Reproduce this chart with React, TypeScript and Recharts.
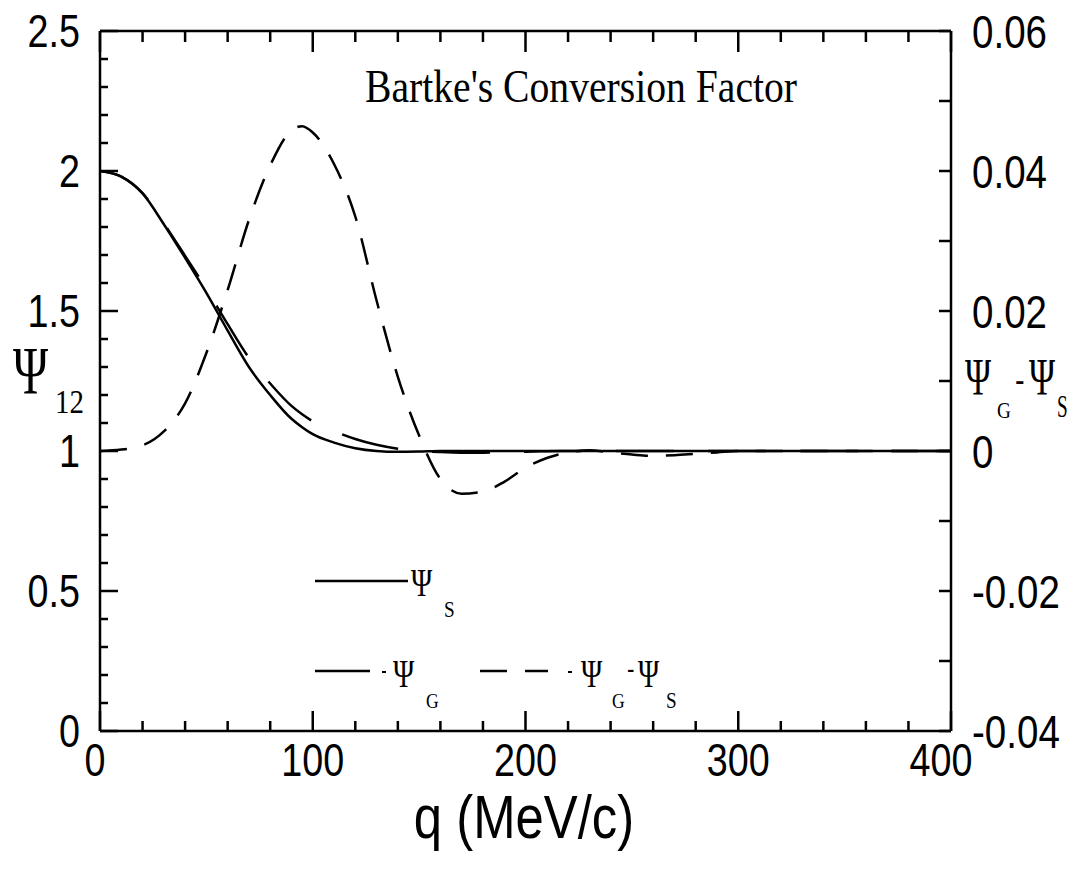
import React from 'react';
import { ComposedChart, Line, XAxis, YAxis } from 'recharts';

const qValues = [0, 10, 20, 30, 40, 50, 60, 70, 80, 90, 95, 100, 110, 120, 130, 140, 150, 160, 170, 180, 190, 200, 210, 220, 230, 240, 250, 260, 270, 280, 290, 300, 310, 320, 330, 340, 350, 360, 370, 380, 390, 400];
const psiS = [2.0, 1.98, 1.92, 1.81, 1.69, 1.565, 1.43, 1.3, 1.2, 1.115, 1.085, 1.06, 1.03, 1.01, 1.0, 0.997, 0.998, 1.0, 1.0, 1.0, 1.0, 1.0, 1.0, 1.0, 1.0, 1.0, 1.0, 1.0, 1.0, 1.0, 1.0, 1.0, 1.0, 1.0, 1.0, 1.0, 1.0, 1.0, 1.0, 1.0, 1.0, 1.0];
const psiG = [2.0, 1.98, 1.921, 1.813, 1.697, 1.579, 1.453, 1.333, 1.241, 1.161, 1.131, 1.106, 1.071, 1.043, 1.022, 1.008, 1.0, 0.996, 0.994, 0.994, 0.9956, 0.9976, 0.999, 0.9998, 1.0, 1.0, 1.0, 1.0, 1.0, 1.0, 1.0, 1.0, 1.0, 1.0, 1.0, 1.0, 1.0, 1.0, 1.0, 1.0, 1.0, 1.0];
const psiDiff = [0, 0.0002, 0.0008, 0.0028, 0.0068, 0.014, 0.023, 0.033, 0.0408, 0.0458, 0.0464, 0.0455, 0.041, 0.0335, 0.0215, 0.0106, 0.0022, -0.004, -0.0061, -0.0058, -0.0044, -0.0024, -0.001, -0.0002, 0.0001, -0.0002, -0.0005, -0.0007, -0.0006, -0.0004, -0.0002, 0, 0, 0, 0, 0, 0, 0, 0, 0, 0, 0];

const xTicks = [0, 20, 40, 60, 80, 100, 120, 140, 160, 180, 200, 220, 240, 260, 280, 300, 320, 340, 360, 380, 400];
const xLabels = ['0', '100', '200', '300', '400'];
const leftTicks = [0, 0.1, 0.2, 0.3, 0.4, 0.5, 0.6, 0.7, 0.8, 0.9, 1.0, 1.1, 1.2, 1.3, 1.4, 1.5, 1.6, 1.7, 1.8, 1.9, 2.0, 2.1, 2.2, 2.3, 2.4, 2.5];
const leftLabels = ['0', '0.5', '1', '1.5', '2', '2.5'];
const rightTicks = [-0.04, -0.03, -0.02, -0.01, 0, 0.01, 0.02, 0.03, 0.04, 0.05, 0.06];
const rightLabels = ['-0.04', '-0.02', '0', '0.02', '0.04', '0.06'];

const data = qValues.map((q, i) => ({ q, s: psiS[i], g: psiG[i], d: psiDiff[i] }));

const SANS = "'Liberation Sans', Arial, Helvetica, sans-serif";
const SERIF = "'Liberation Serif', 'Times New Roman', serif";
const AX = 2.5;
const NARROW = 0.82;

const findLabel = (labels: string[], v: number) => labels.find((l) => Math.abs(Number(l) - v) < 1e-9);

const T = (props: any) => {
  const { x, y, sx = 1, sy = 1, anchor = 'start', size, family = SERIF, children } = props;
  return (
    <text
      transform={`translate(${x},${y}) scale(${sx},${sy})`}
      x={0}
      y={0}
      textAnchor={anchor}
      fontSize={size}
      fontFamily={family}
      fill="#000"
    >
      {children}
    </text>
  );
};

const BottomTick = (props: any) => {
  const { x, y, payload } = props;
  const lab = findLabel(xLabels, payload.value);
  const shift = payload.value === 0 ? -5 : payload.value === 400 ? -10 : 0;
  return (
    <g>
      <line x1={x} x2={x} y1={y} y2={y - (lab ? 20 : 10)} stroke="#000" strokeWidth={AX} />
      {lab && (
        <T x={x + shift} y={y + 45} anchor="middle" size={46} family={SANS} sx={NARROW}>{lab}</T>
      )}
    </g>
  );
};

const TopTick = (props: any) => {
  const { x, y, payload } = props;
  const lab = findLabel(xLabels, payload.value);
  return <line x1={x} x2={x} y1={y} y2={y + (lab ? 21 : 11)} stroke="#000" strokeWidth={AX} />;
};

const LeftTick = (props: any) => {
  const { x, y, payload } = props;
  const lab = findLabel(leftLabels, payload.value);
  return (
    <g>
      <line x1={x} x2={x + (lab ? 18 : 8)} y1={y} y2={y} stroke="#000" strokeWidth={AX} />
      {lab && (
        <T x={x - 20} y={y + 16} anchor="end" size={46} family={SANS} sx={NARROW}>{lab}</T>
      )}
    </g>
  );
};

const RightTick = (props: any) => {
  const { x, y, payload } = props;
  const lab = findLabel(rightLabels, payload.value);
  return (
    <g>
      <line x1={x} x2={x - 12} y1={y} y2={y} stroke="#000" strokeWidth={AX} />
      {lab && (
        <T x={x + 21} y={y + 17} anchor="start" size={47} family={SANS} sx={NARROW}>{lab}</T>
      )}
    </g>
  );
};

export default function App() {
  return (
    <div style={{ position: 'absolute', left: 0, top: 0, width: 1081, height: 871, background: '#fff' }}>
      <ComposedChart width={1081} height={871} data={data} margin={{ top: 0, right: 0, bottom: 0, left: 0 }}>
        <XAxis
          xAxisId="bottom"
          dataKey="q"
          type="number"
          domain={[0, 400]}
          allowDataOverflow
          ticks={xTicks}
          interval={0}
          height={140}
          tickSize={0}
          tickMargin={0}
          tickLine={false}
          axisLine={{ stroke: '#000', strokeWidth: AX }}
          tick={<BottomTick />}
        />
        <XAxis
          xAxisId="top"
          orientation="top"
          dataKey="q"
          type="number"
          domain={[0, 400]}
          allowDataOverflow
          ticks={xTicks}
          interval={0}
          height={31}
          tickSize={0}
          tickMargin={0}
          tickLine={false}
          axisLine={{ stroke: '#000', strokeWidth: AX }}
          tick={<TopTick />}
        />
        <YAxis
          yAxisId="left"
          type="number"
          domain={[0, 2.5]}
          allowDataOverflow
          ticks={leftTicks}
          interval={0}
          width={100}
          tickSize={0}
          tickMargin={0}
          tickLine={false}
          axisLine={{ stroke: '#000', strokeWidth: AX }}
          tick={<LeftTick />}
        />
        <YAxis
          yAxisId="right"
          orientation="right"
          type="number"
          domain={[-0.04, 0.06]}
          allowDataOverflow
          ticks={rightTicks}
          interval={0}
          width={130}
          tickSize={0}
          tickMargin={0}
          tickLine={false}
          axisLine={{ stroke: '#000', strokeWidth: AX }}
          tick={<RightTick />}
        />
        <Line xAxisId="bottom" yAxisId="left" dataKey="s" type="monotone" stroke="#000" strokeWidth={2.5} dot={false} activeDot={false} isAnimationActive={false} />
        <Line xAxisId="bottom" yAxisId="left" dataKey="g" type="monotone" stroke="#000" strokeWidth={2.5} strokeDasharray="58 34" dot={false} activeDot={false} isAnimationActive={false} />
        <Line xAxisId="top" yAxisId="right" dataKey="d" type="monotone" stroke="#000" strokeWidth={2.5} strokeDasharray="27 18" dot={false} activeDot={false} isAnimationActive={false} />
      </ComposedChart>
      <svg width={1081} height={871} style={{ position: 'absolute', left: 0, top: 0, pointerEvents: 'none' }}>
        <text x={365} y={102} fontSize={46} fontFamily={SERIF} fill="#000" textLength={432} lengthAdjust="spacingAndGlyphs">Bartke's Conversion Factor</text>
        <T x={524} y={838} anchor="middle" size={62} family={SANS} sx={NARROW}>q (MeV/c)</T>

        <T x={13} y={393} size={68} sx={0.7}>Ψ</T>
        <T x={55} y={413} size={34} sx={0.85}>12</T>

        <T x={965} y={395} size={52} sx={0.68}>Ψ</T>
        <T x={997} y={418} size={24} sx={0.8}>G</T>
        <T x={1015} y={392} size={36} family={SANS} sx={0.8}>-</T>
        <T x={1029} y={395} size={52} sx={0.68}>Ψ</T>
        <T x={1057} y={417} size={32} sx={0.6}>S</T>

        <line x1={315} x2={408} y1={581} y2={581} stroke="#000" strokeWidth={2.5} />
        <T x={411} y={596} size={40} sx={0.72}>Ψ</T>
        <T x={444} y={617} size={24} sx={0.8}>S</T>

        <line x1={315} x2={370} y1={671} y2={671} stroke="#000" strokeWidth={2.5} />
        <line x1={382} x2={386} y1={672} y2={672} stroke="#000" strokeWidth={2} />
        <T x={393} y={687} size={40} sx={0.72}>Ψ</T>
        <T x={426} y={708} size={22} sx={0.8}>G</T>
        <line x1={480} x2={507} y1={671} y2={671} stroke="#000" strokeWidth={2.5} />
        <line x1={525} x2={548} y1={671} y2={671} stroke="#000" strokeWidth={2.5} />
        <line x1={568} x2={572} y1={672} y2={672} stroke="#000" strokeWidth={2} />
        <T x={581} y={687} size={40} sx={0.72}>Ψ</T>
        <T x={612} y={708} size={22} sx={0.8}>G</T>
        <T x={627} y={678} size={28} family={SANS} sx={0.8}>-</T>
        <T x={638} y={687} size={40} sx={0.72}>Ψ</T>
        <T x={666} y={708} size={24} sx={0.8}>S</T>
      </svg>
    </div>
  );
}
